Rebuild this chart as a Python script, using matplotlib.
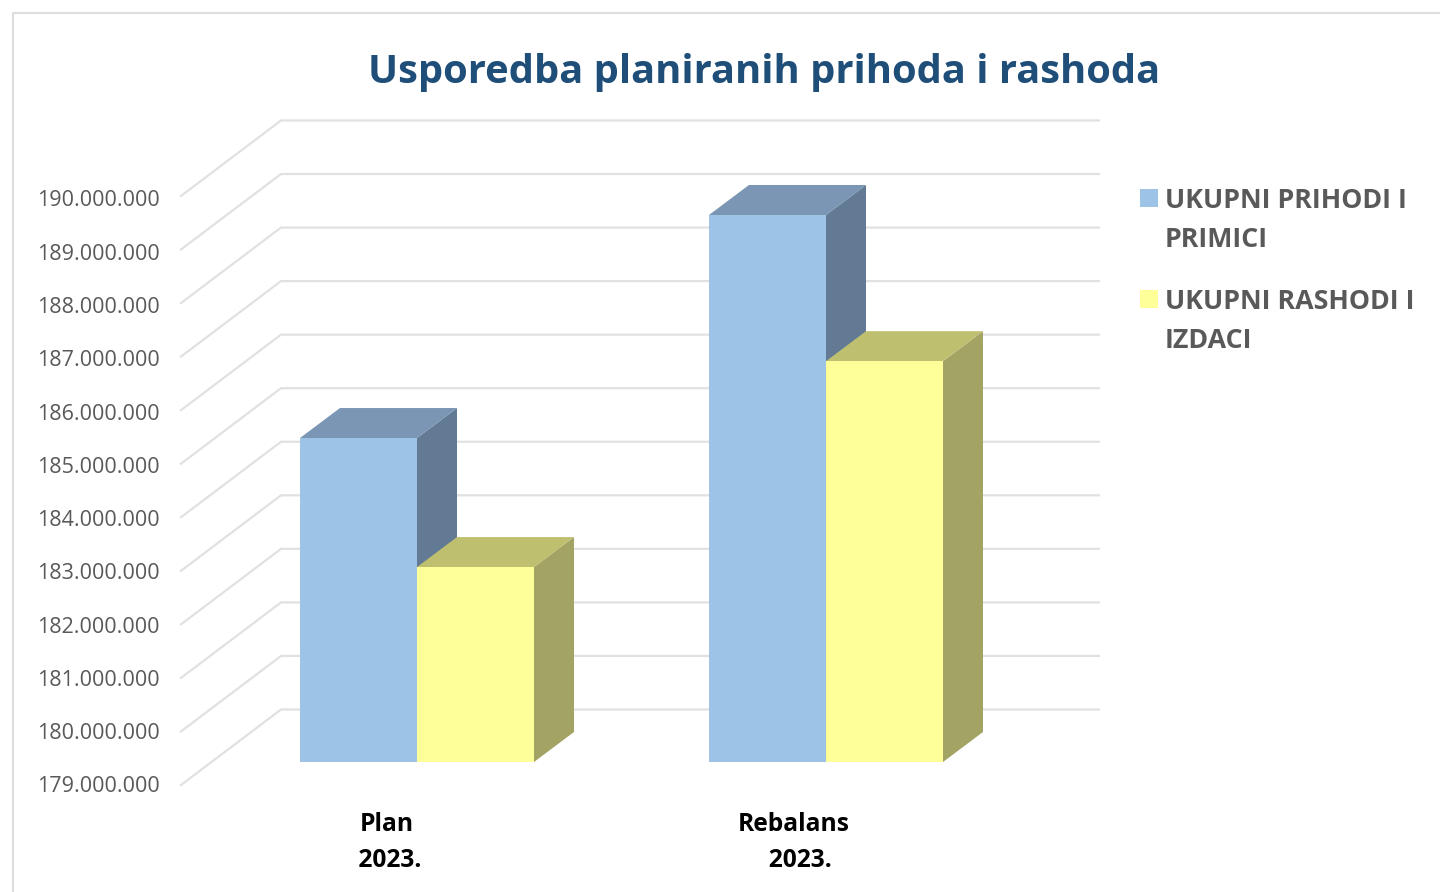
import matplotlib
matplotlib.use("Agg")
import matplotlib.pyplot as plt
from matplotlib.patches import Polygon, Rectangle
from matplotlib.transforms import blended_transform_factory, IdentityTransform

categories = ["Plan\n 2023.", "Rebalans\n  2023."]
series_names = ["UKUPNI PRIHODI I\nPRIMICI", "UKUPNI RASHODI I\nIZDACI"]
prihodi = [185050000, 189215000]
rashodi = [182640000, 186485000]
ticks = [179000000 + i * 1000000 for i in range(12)]
tick_labels = [f"{t:,}".replace(",", ".") for t in ticks]

W, H = 1440, 892
plt.rcParams["font.family"] = ["Open Sans", "DejaVu Sans"]
fig = plt.figure(figsize=(W / 100, H / 100), dpi=100, facecolor="white")

# Front plane of the bars: category 0 at px 417, category 1 at px 826; 179M at y=762
PX_PER_CAT = 409.0
PX_PER_UNIT = 53.55 / 1e6
left, right, top, base = 181, 1099, 120, 762
ax = fig.add_axes([left / W, 1 - base / H, (right - left) / W, (base - top) / H])
ax.set_xlim((left - 417) / PX_PER_CAT, (right - 417) / PX_PER_CAT)
ax.set_ylim(179000000, 179000000 + (base - top) / PX_PER_UNIT)
ax.axis("off")

# Outer chart frame
frame = "#DEDEDE"
fig.add_artist(plt.Line2D([12.5 / W, 12.5 / W, 1], [0, 1 - 13 / H, 1 - 13 / H],
                          transform=fig.transFigure, color=frame, lw=1.6))

# Gridlines: a floor/wall polyline per tick
grid = "#E1E1E1"
pix_y = blended_transform_factory(IdentityTransform(), ax.transData)
front_off = 23 / PX_PER_UNIT
back_off = 52.5 / PX_PER_UNIT
for n, (t, lab) in enumerate(zip(ticks, tick_labels)):
    ax.plot([181, 281, 1099], [t - front_off, t + back_off, t + back_off],
            transform=pix_y, color=grid, lw=1.6, clip_on=False, zorder=1,
            solid_joinstyle="miter")
    label_shift = -2 - n * 3 / 11
    ax.text(160, t - front_off + label_shift / PX_PER_UNIT, lab, transform=pix_y, ha="right",
            va="center", fontsize=15.45, color="#595959", clip_on=False)

# 3-D bars
BAR_W = 117 / PX_PER_CAT
DX = 40 / PX_PER_CAT
DY = 30 / PX_PER_UNIT
styles = [("#9DC3E6", "#7B96B4", "#627A94"), ("#FFFF99", "#BFBF70", "#A3A364")]
b0 = 179000000
z = 3
for i in range(len(categories)):
    for k, vals in enumerate([prihodi, rashodi]):
        front, topc, side = styles[k]
        x0 = i + (k - 1) * BAR_W
        x1 = x0 + BAR_W
        v = vals[i]
        ax.add_patch(Polygon([(x1, b0), (x1 + DX, b0 + DY), (x1 + DX, v + DY), (x1, v)],
                             facecolor=side, edgecolor="none", zorder=z, clip_on=False))
        ax.add_patch(Polygon([(x0, v), (x0 + DX, v + DY), (x1 + DX, v + DY), (x1, v)],
                             facecolor=topc, edgecolor="none", zorder=z, clip_on=False))
        ax.bar(x0, v - b0, width=BAR_W, bottom=b0, align="edge", color=front,
               edgecolor="none", zorder=z + 0.5, clip_on=False)
        z += 1

# Category labels
for i, c in enumerate(categories):
    ax.text(i - 30 / PX_PER_CAT if i == 0 else i - 32 / PX_PER_CAT,
            179000000 - 80.5 / PX_PER_UNIT, c, ha="center", va="center",
            fontsize=17.7, fontweight="bold", color="black", linespacing=1.56, clip_on=False)

# Title
fig.text(764.5 / W, 1 - 72 / H, "Usporedba planiranih prihoda i rashoda", ha="center",
         va="center", fontsize=28.7, fontweight="bold", color="#1F4E79")

# Legend
leg_y = [198, 299]
for name, (front, _, _), y in zip(series_names, styles, leg_y):
    fig.add_artist(Rectangle((1140 / W, 1 - (y + 9) / H), 18 / W, 18 / H,
                             transform=fig.transFigure, facecolor=front, edgecolor="none"))
    fig.text(1165 / W, 1 - (y - 10) / H, name, ha="left", va="top", fontsize=19.3,
             fontweight="bold", color="#595959", linespacing=1.65)

fig.savefig("out.png", dpi=100, facecolor="white")
